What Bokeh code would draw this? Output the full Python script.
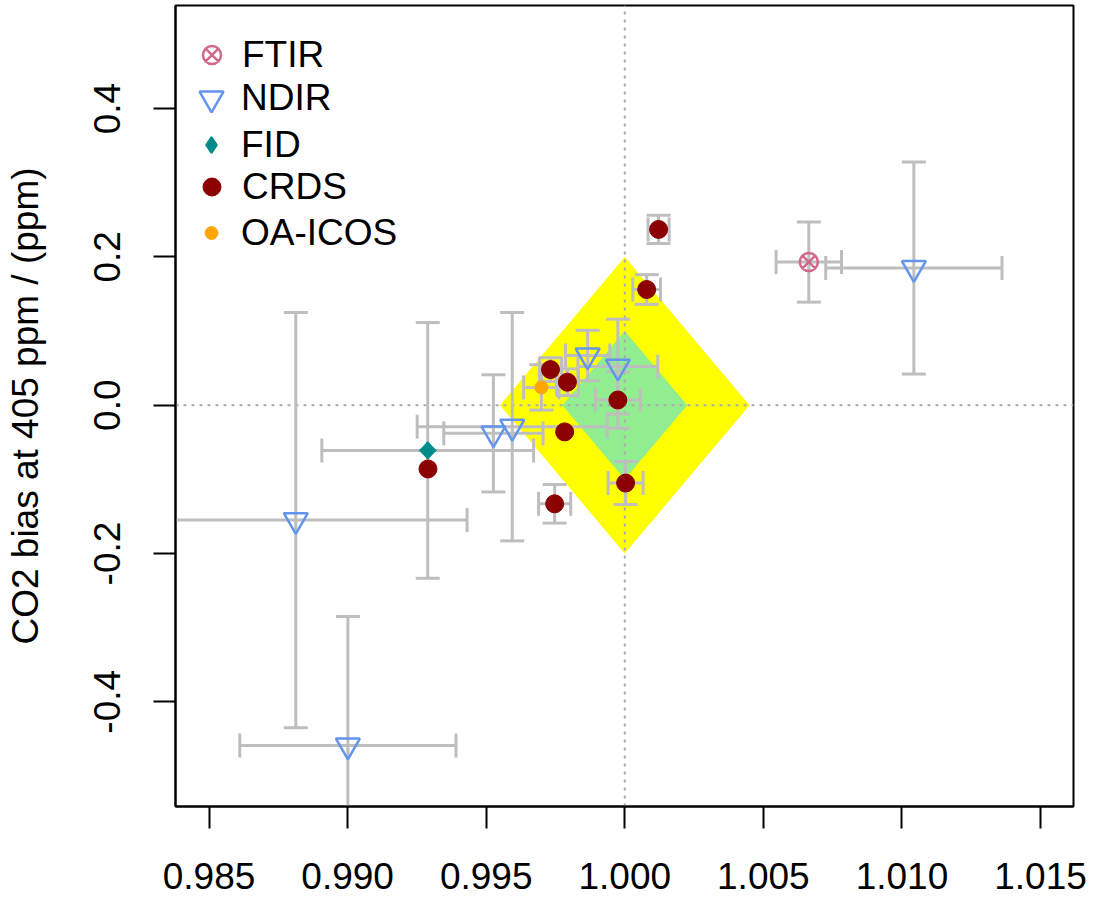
import numpy as np
from bokeh.plotting import figure
from bokeh.models import Range1d, FixedTicker, Legend, LegendItem, NumeralTickFormatter
from bokeh.embed import file_html
from bokeh.resources import INLINE

# ---------------- data ----------------
ftir_x = [1.00664]
ftir_y = [0.193]
ftir_xerr = [0.00118]
ftir_yerr = [0.054]

ndir_x = [1.01043, 0.98813, 0.99001, 0.99526, 0.99594, 0.99866, 0.99975]
ndir_y = [0.185, -0.155, -0.459, -0.038, -0.029, 0.067, 0.052]
ndir_xerr = [0.00318, 0.00618, 0.0039, 0.00179, 0.00343, 0.0008, 0.00144]
ndir_yerr = [0.143, 0.280, 0.174, 0.079, 0.154, 0.034, 0.064]

fid_x = [0.99289]
fid_y = [-0.061]
fid_xerr = [0.00382]
fid_yerr = [0.1724]

crds_x = [1.00122, 1.00079, 0.99975, 0.99732, 0.99793, 0.99783, 1.00003, 0.99747, 0.99290]
crds_y = [0.237, 0.156, 0.007, 0.048, 0.031, -0.036, -0.105, -0.133, -0.086]
crds_xerr = [0.00038, 0.0005, 0.00081, 0.0004, 0.0004, 0.0, 0.00063, 0.00058, 0.0]
crds_yerr = [0.019, 0.020, 0.038, 0.016, 0.018, 0.0, 0.029, 0.026, 0.0]

oa_x = [0.99699]
oa_y = [0.024]
oa_xerr = [0.00064]
oa_yerr = [0.0306]

x_ticks = [0.985, 0.990, 0.995, 1.000, 1.005, 1.010, 1.015]
x_tick_labels = ["0.985", "0.990", "0.995", "1.000", "1.005", "1.010", "1.015"]
y_ticks = [-0.4, -0.2, 0.0, 0.2, 0.4]
y_tick_labels = ["-0.4", "-0.2", "0.0", "0.2", "0.4"]

y_label = "CO2 bias at 405 ppm / (ppm)"
legend_labels = ["FTIR", "NDIR", "FID", "CRDS", "OA-ICOS"]

ref_x = 1.0
ref_y = 0.0
yellow_half_x, yellow_half_y = 0.0045, 0.2
green_half_x, green_half_y = 0.00225, 0.1

x_lo, x_hi = 0.98379, 1.01619
y_lo, y_hi = -0.5412, 0.5390

FONT = "Liberation Sans"
FS = "37px"
ERR_COL = "#BEBEBE"
C_FTIR, C_NDIR, C_FID, C_CRDS, C_OA = "#D0698C", "#6495ED", "#008B8B", "#8B0000", "#FFA500"

# ---------------- figure ----------------
FRAME_L, FRAME_T, FRAME_W, FRAME_H = 175, 5, 898, 801
p = figure(frame_width=FRAME_W, frame_height=FRAME_H,
           min_border_left=FRAME_L, min_border_right=20,
           min_border_top=FRAME_T, min_border_bottom=92,
           x_range=Range1d(x_lo, x_hi), y_range=Range1d(y_lo, y_hi),
           output_backend="svg", toolbar_location=None)
p.grid.visible = False
p.outline_line_color = "black"
p.outline_line_width = 2
p.background_fill_color = "white"
p.border_fill_color = "white"

# target regions
p.patch(x=[ref_x - yellow_half_x, ref_x, ref_x + yellow_half_x, ref_x],
        y=[ref_y, ref_y + yellow_half_y, ref_y, ref_y - yellow_half_y],
        fill_color="#FFFF00", line_color=None)
p.patch(x=[ref_x - green_half_x, ref_x, ref_x + green_half_x, ref_x],
        y=[ref_y, ref_y + green_half_y, ref_y, ref_y - green_half_y],
        fill_color="#90EE90", line_color=None)

# reference dotted lines
p.segment(x0=[ref_x, x_lo], y0=[y_lo, ref_y], x1=[ref_x, x_hi], y1=[y_hi, ref_y],
          line_color="#AAAAAA", line_width=2, line_dash="3 5")

# error bars
groups = [
    (ftir_x, ftir_y, ftir_xerr, ftir_yerr),
    (ndir_x, ndir_y, ndir_xerr, ndir_yerr),
    (fid_x, fid_y, fid_xerr, fid_yerr),
    (crds_x, crds_y, crds_xerr, crds_yerr),
    (oa_x, oa_y, oa_xerr, oa_yerr),
]
vx, vy0, vy1, hx0, hx1, hy = [], [], [], [], [], []
for gx, gy, gxe, gye in groups:
    for x, y, xe, ye in zip(gx, gy, gxe, gye):
        if ye > 0:
            vx.append(x); vy0.append(y - ye); vy1.append(y + ye)
        if xe > 0:
            hy.append(y); hx0.append(x - xe); hx1.append(x + xe)

p.segment(x0=vx, y0=vy0, x1=vx, y1=vy1, line_color=ERR_COL, line_width=3)
p.segment(x0=hx0, y0=hy, x1=hx1, y1=hy, line_color=ERR_COL, line_width=3)
p.scatter(x=vx + vx, y=vy0 + vy1, marker="dash", size=24, angle=0,
          line_color=ERR_COL, line_width=3)
p.scatter(x=hx0 + hx1, y=hy + hy, marker="dash", size=24, angle=np.pi / 2,
          line_color=ERR_COL, line_width=3)

# points
r_ftir = p.scatter(x=ftir_x, y=ftir_y, marker="circle_x", size=18,
                   line_color=C_FTIR, fill_color=None, line_width=2.5)
r_ndir = p.scatter(x=ndir_x, y=ndir_y, marker="inverted_triangle", size=24,
                   line_color=C_NDIR, fill_color=None, line_width=2.5)
# legend key for FID (legend keys are drawn unrotated); it sits hidden
# underneath the rotated-square FID point
r_fid_key = p.scatter(x=fid_x, y=fid_y, marker="diamond", size=16,
                      line_color=C_FID, fill_color=C_FID, line_width=2)
r_fid = p.scatter(x=fid_x, y=fid_y, marker="square", angle=np.pi / 4, size=12,
                  line_color=C_FID, fill_color=C_FID)
r_crds = p.scatter(x=crds_x, y=crds_y, marker="circle", size=18,
                   line_color=C_CRDS, fill_color=C_CRDS)
r_oa = p.scatter(x=oa_x, y=oa_y, marker="circle", size=13,
                 line_color=C_OA, fill_color=C_OA)

# axes
for ax in (p.xaxis[0], p.yaxis[0]):
    ax.axis_line_color = "black"
    ax.axis_line_width = 2
    ax.major_tick_line_color = "black"
    ax.major_tick_line_width = 2
    ax.major_tick_out = 22
    ax.major_tick_in = 0
    ax.minor_tick_line_color = None
    ax.major_label_text_font = FONT
    ax.major_label_text_font_size = FS
    ax.major_label_text_color = "black"
    ax.axis_label_text_font = FONT
    ax.axis_label_text_font_size = FS
    ax.axis_label_text_font_style = "normal"
    ax.axis_label_text_color = "black"

p.xaxis.ticker = FixedTicker(ticks=x_ticks)
p.xaxis.formatter = NumeralTickFormatter(format="0.000")
p.xaxis.major_label_overrides = dict(zip(x_ticks, x_tick_labels))
p.xaxis.major_label_standoff = 34

p.yaxis.ticker = FixedTicker(ticks=y_ticks)
p.yaxis.formatter = NumeralTickFormatter(format="0.0")
p.yaxis.major_label_overrides = dict(zip(y_ticks, y_tick_labels))
p.yaxis.major_label_orientation = "vertical"
p.yaxis.major_label_standoff = 33
p.yaxis.axis_label = y_label
p.yaxis.axis_label_standoff = 46

# legend: one single-item legend per row so that each key keeps its own size
# (Bokeh draws a legend key at 0.4 x the key box, so box = 2.5 x key size)
key_x = 211          # screen x of key centres
text_x = 241         # screen x where the labels start
row_y = [55, 98, 145, 187, 233]
keys = [(r_ftir, 45), (r_ndir, 60), (r_fid_key, 40), (r_crds, 45), (r_oa, 32)]
frame_bottom = FRAME_T + FRAME_H
for label, (rend, gw), cy in zip(legend_labels, keys, row_y):
    gh = max(gw, 45)
    leg = Legend(items=[LegendItem(label=label, renderers=[rend])],
                 location=(int(key_x - gw // 2 - FRAME_L), int(frame_bottom - (cy + gh // 2))),
                 margin=0, padding=0, spacing=0,
                 glyph_width=int(gw), glyph_height=int(gh), label_height=20,
                 label_standoff=int(text_x - (key_x + gw // 2)),
                 label_text_font=FONT, label_text_font_size=FS,
                 label_text_color="black",
                 border_line_color=None, background_fill_alpha=0)
    p.add_layout(leg)

open("out.html", "w").write(file_html(p, INLINE))
